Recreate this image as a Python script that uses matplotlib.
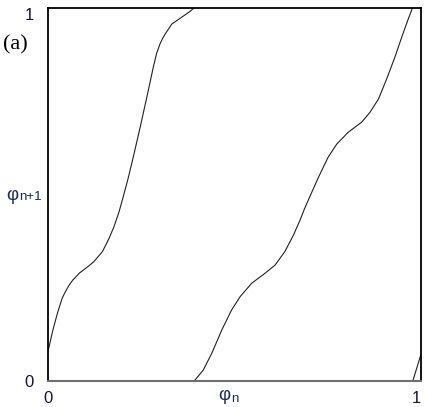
import matplotlib
matplotlib.use("Agg")
import matplotlib.pyplot as plt

plt.rcParams['font.family'] = ['Liberation Sans', 'DejaVu Sans']

# Branch 1 of the map (phi_n -> phi_{n+1})
branch1_x = [0.0, 0.003, 0.012, 0.025, 0.038, 0.047, 0.056, 0.066, 0.085, 0.097,
             0.110, 0.123, 0.146, 0.164, 0.177, 0.190, 0.202, 0.215, 0.229, 0.247,
             0.265, 0.282, 0.291, 0.300, 0.307, 0.314, 0.332, 0.358, 0.381, 0.391]
branch1_y = [0.083, 0.092, 0.132, 0.181, 0.222, 0.240, 0.256, 0.270, 0.290, 0.299,
             0.309, 0.320, 0.347, 0.383, 0.414, 0.452, 0.495, 0.544, 0.602, 0.680,
             0.761, 0.840, 0.878, 0.903, 0.918, 0.930, 0.957, 0.975, 0.991, 1.0]

# Branch 2
branch2_x = [0.392, 0.416, 0.439, 0.466, 0.492, 0.515, 0.546, 0.582, 0.609, 0.635,
             0.658, 0.676, 0.687, 0.700, 0.725, 0.751, 0.774, 0.805, 0.841, 0.863,
             0.886, 0.908, 0.930, 0.948, 0.966, 0.977]
branch2_y = [0.0, 0.029, 0.074, 0.137, 0.190, 0.226, 0.262, 0.289, 0.311, 0.347,
             0.391, 0.432, 0.460, 0.490, 0.546, 0.600, 0.635, 0.667, 0.694, 0.720,
             0.756, 0.810, 0.868, 0.921, 0.971, 1.0]

# Branch 3
branch3_x = [0.978, 0.989, 1.0]
branch3_y = [0.0, 0.036, 0.072]

x_ticks = [0, 1]
x_ticklabels = ['0', '1']
y_ticks = [0, 1]
y_ticklabels = ['0', '1']

W, H = 432, 407
fig = plt.figure(figsize=(W / 100, H / 100), dpi=100)
ax = fig.add_axes([48 / W, (H - 381) / H, 373 / W, 373 / H])

for bx, by in [(branch1_x, branch1_y), (branch2_x, branch2_y), (branch3_x, branch3_y)]:
    ax.plot(bx, by, color='#202020', lw=0.8, solid_joinstyle='round',
            solid_capstyle='round', clip_on=True)

ax.set_xlim(0, 1)
ax.set_ylim(0, 1)

txt_color = '#141438'
ax.set_xticks(x_ticks)
ax.set_xticklabels(x_ticklabels, fontsize=12, color=txt_color)
ax.set_yticks(y_ticks)
ax.set_yticklabels(y_ticklabels, fontsize=12, color=txt_color)
ax.tick_params(axis='both', length=0)
ax.tick_params(axis='x', pad=7)
ax.tick_params(axis='y', pad=10)
xl = ax.get_xticklabels()
xl[1].set_ha('right')
yl = ax.get_yticklabels()
yl[1].set_va('top')

for side in ['left', 'top', 'right']:
    ax.spines[side].set_color('black')
    ax.spines[side].set_linewidth(1.3)
ax.spines['bottom'].set_color('#707070')
ax.spines['bottom'].set_linewidth(1.5)

lab_color = '#1c2c5a'
fig.text(12.5 / W, 1 - 195 / H, 'φ', fontsize=13.5, color=lab_color,
         ha='center', va='center')
fig.text(19.5 / W, 1 - 197.5 / H, 'n+1', fontsize=9.5, color=lab_color,
         ha='left', va='center')
fig.text(224.5 / W, 1 - 395 / H, 'φ', fontsize=13.5, color=lab_color,
         ha='center', va='center')
fig.text(231.5 / W, 1 - 399 / H, 'n', fontsize=9.5, color=lab_color,
         ha='left', va='center')
fig.text(15 / W, 1 - 45 / H, '(a)', fontsize=16, family='Liberation Serif',
         color='black', ha='center', va='center')

fig.savefig('out.png', dpi=100)
